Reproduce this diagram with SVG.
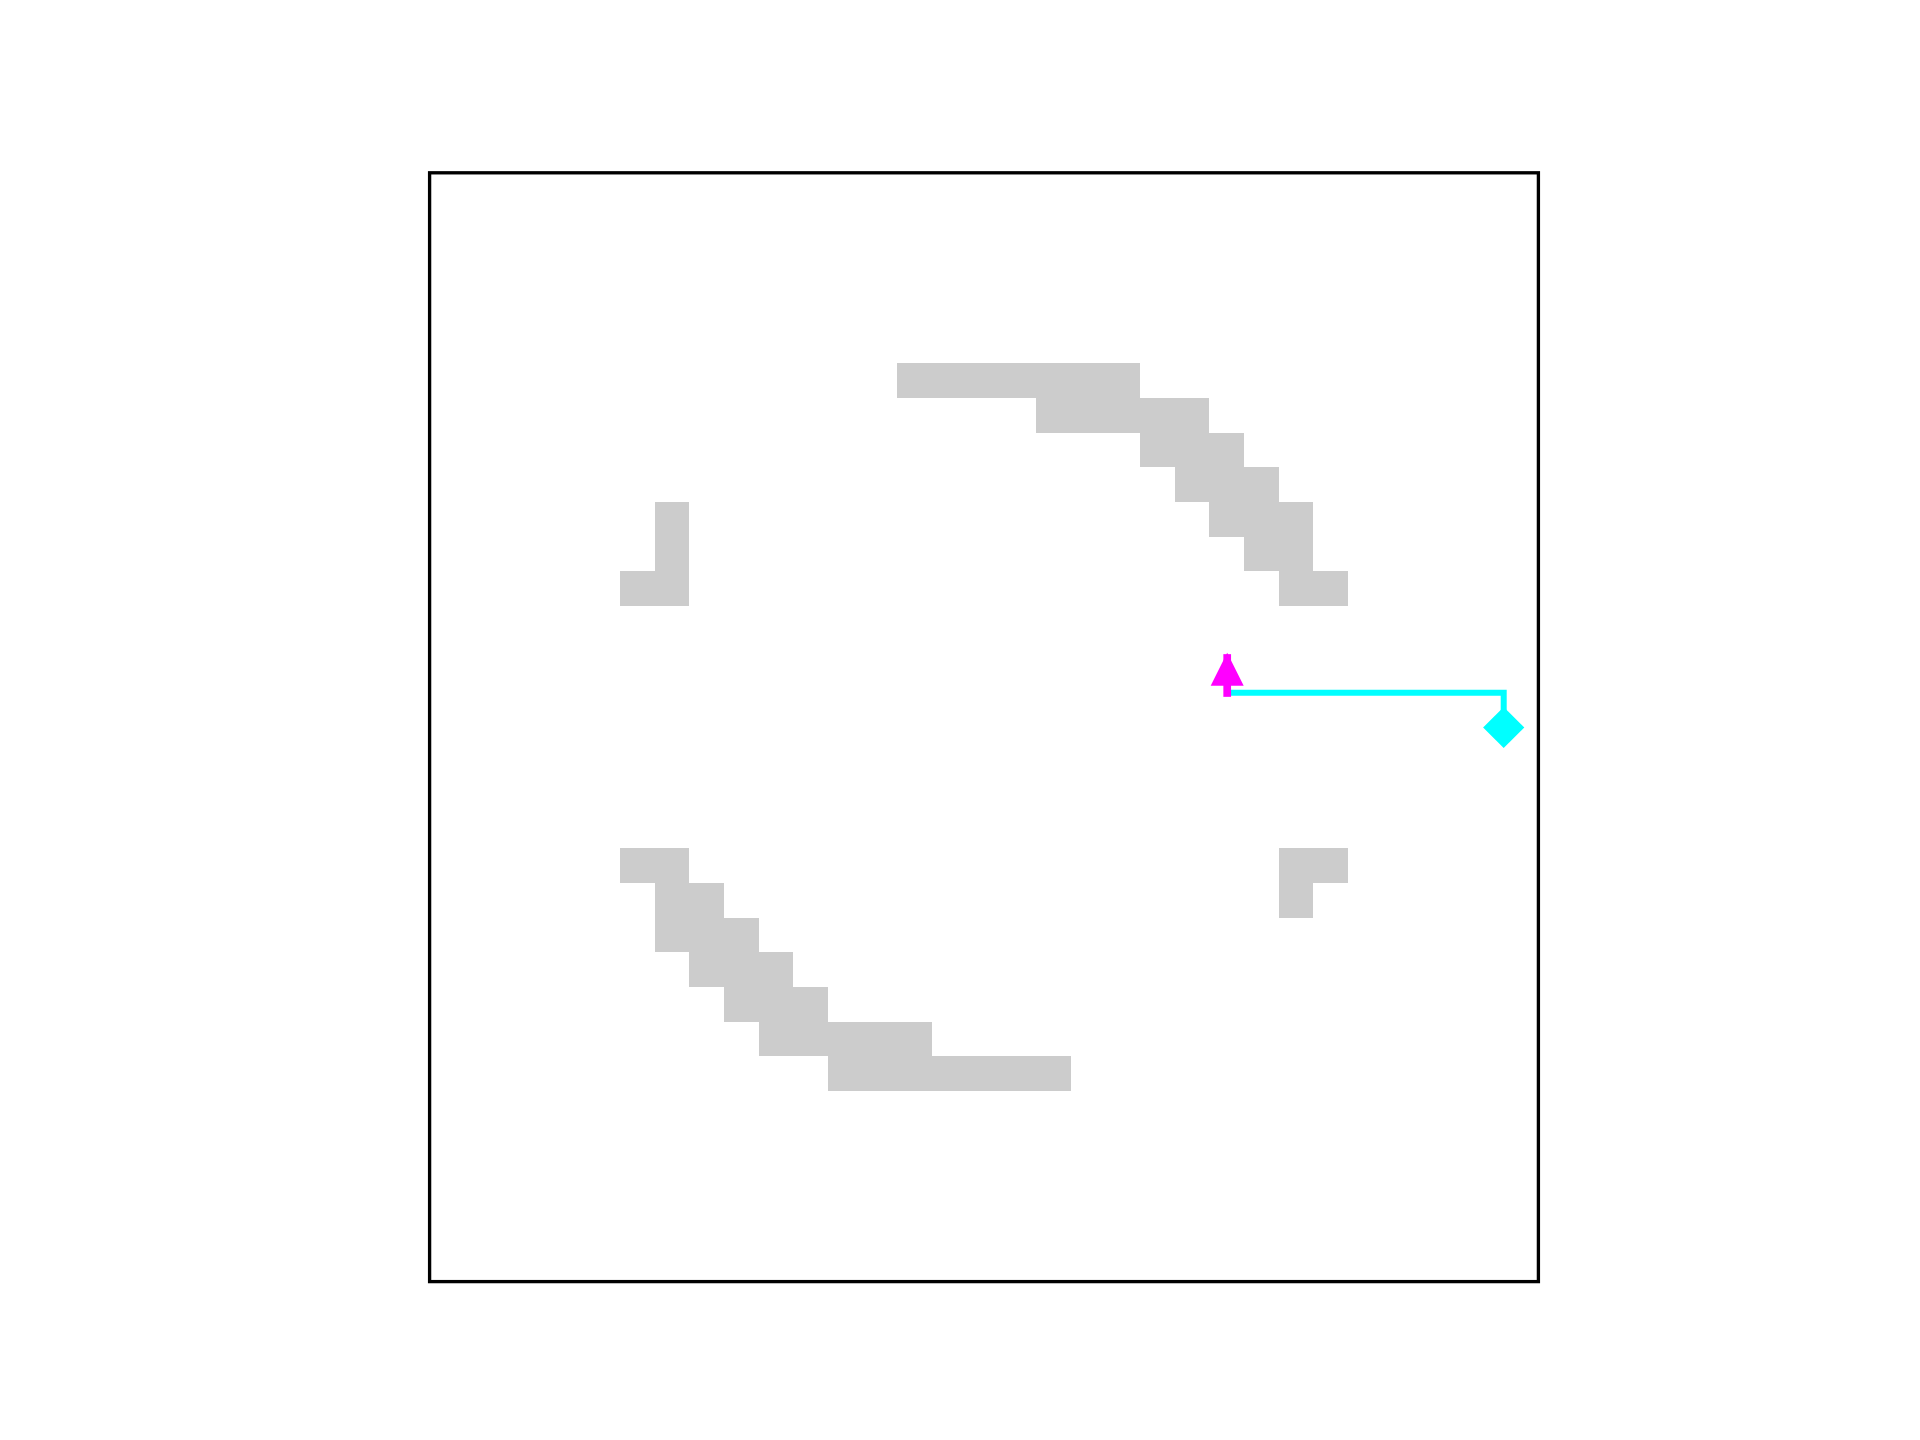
<svg xmlns="http://www.w3.org/2000/svg" width="1920" height="1440" viewBox="0 0 1920 1440">
<style>
.cell{fill:#cccccc;stroke:none}
.frame{fill:none;stroke:#000000;stroke-width:3.33}
.path{fill:none;stroke:#00ffff;stroke-width:6;stroke-linejoin:miter}
.arrow{stroke:#ff00ff;stroke-width:7.7;stroke-linecap:square}
</style>
<rect width="1920" height="1440" fill="#ffffff"/>
<g id="obstacles" transform="translate(429.6 172.8) scale(34.65)" shape-rendering="crispEdges">
<g id="arc-top">
<rect class="cell" x="13.5" y="5.5" width="7" height="1"/>
<rect class="cell" x="17.5" y="6.5" width="5" height="1"/>
<rect class="cell" x="20.5" y="7.5" width="3" height="1"/>
<rect class="cell" x="21.5" y="8.5" width="3" height="1"/>
<rect class="cell" x="22.5" y="9.5" width="3" height="1"/>
<rect class="cell" x="23.5" y="10.5" width="2" height="1"/>
<rect class="cell" x="24.5" y="11.5" width="2" height="1"/>
</g>
<g id="corner-left">
<rect class="cell" x="6.5" y="9.5" width="1" height="3"/>
<rect class="cell" x="5.5" y="11.5" width="1" height="1"/>
</g>
<g id="arc-bottom">
<rect class="cell" x="5.5" y="19.5" width="2" height="1"/>
<rect class="cell" x="6.5" y="20.5" width="2" height="1"/>
<rect class="cell" x="6.5" y="21.5" width="3" height="1"/>
<rect class="cell" x="7.5" y="22.5" width="3" height="1"/>
<rect class="cell" x="8.5" y="23.5" width="3" height="1"/>
<rect class="cell" x="9.5" y="24.5" width="5" height="1"/>
<rect class="cell" x="11.5" y="25.5" width="7" height="1"/>
</g>
<g id="corner-right">
<rect class="cell" x="24.5" y="19.5" width="2" height="1"/>
<rect class="cell" x="24.5" y="20.5" width="1" height="1"/>
</g>
</g>
<g id="connectors">
<polyline class="path" points="1227.2,692.8 1503.7,692.8 1503.7,727.5"/>
</g>
<g id="goal">
<polygon fill="#00ffff" points="1503.7,707 1524.3,727.5 1503.7,748 1483.1,727.5"/>
</g>
<g id="start">
<line class="arrow" x1="1227.2" y1="658" x2="1227.2" y2="693"/>
<polygon fill="#ff00ff" points="1227.2,652.7 1210.7,685.7 1243.7,685.7"/>
</g>
<g id="frame">
<rect class="frame" x="429.6" y="172.8" width="1108.8" height="1108.8"/>
</g>
</svg>
